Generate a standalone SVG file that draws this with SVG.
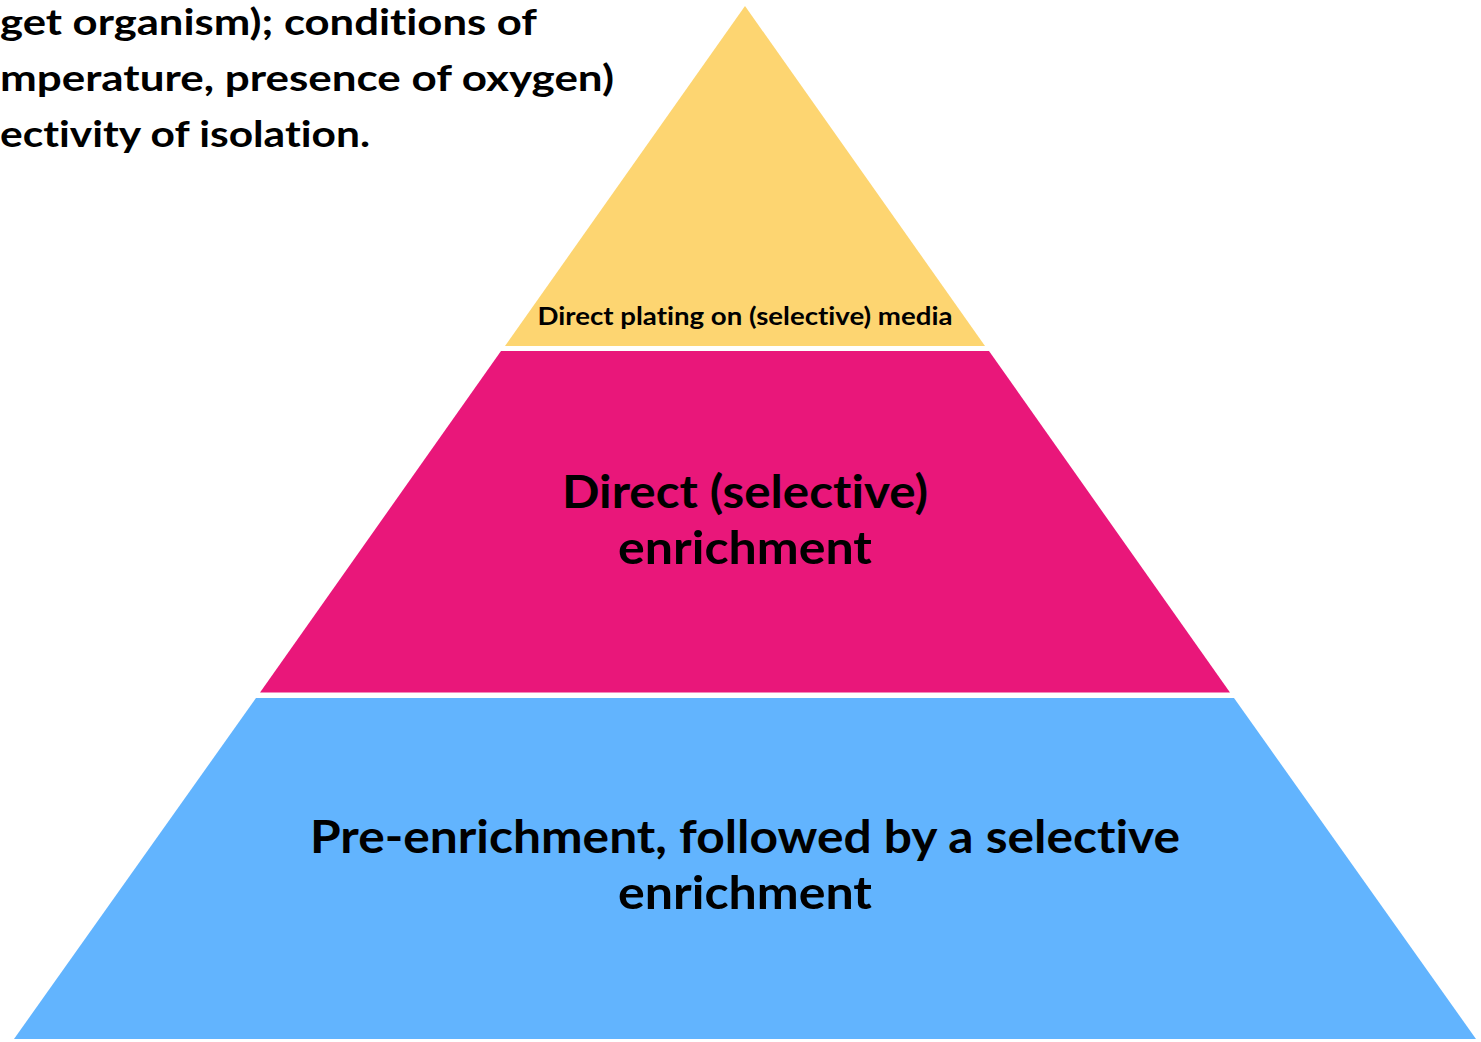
<svg xmlns="http://www.w3.org/2000/svg" width="1481" height="1042" viewBox="0 0 1481 1042">
<style>
.t{font-family:Lato,"Open Sans","Liberation Sans",sans-serif;font-weight:bold;fill:#000;font-variant-ligatures:none;font-feature-settings:"liga" 0}
.c{text-anchor:middle}
</style>
<rect width="1481" height="1042" fill="#ffffff"/>
<g id="note">
<text class="t" x="0" y="35" font-size="36" textLength="537" lengthAdjust="spacingAndGlyphs">get organism); conditions of</text>
<text class="t" x="0" y="91" font-size="36" textLength="614" lengthAdjust="spacingAndGlyphs">mperature, presence of oxygen)</text>
<text class="t" x="0" y="147" font-size="36" textLength="370" lengthAdjust="spacingAndGlyphs">ectivity of isolation.</text>
</g>
<g id="tier-top">
<polygon points="745,6 985,346 505,346" fill="#FDD571"/>
<text class="t c" x="745" y="325" font-size="25.5" textLength="415" lengthAdjust="spacingAndGlyphs">Direct plating on (selective) media</text>
</g>
<g id="tier-middle">
<polygon points="501,351 989,351 1230,692.5 260,692.5" fill="#E9177A"/>
<text class="t c" x="745" y="508" font-size="46" textLength="366" lengthAdjust="spacingAndGlyphs">Direct (selective)</text>
<text class="t c" x="745" y="564" font-size="46" textLength="254" lengthAdjust="spacingAndGlyphs">enrichment</text>
</g>
<g id="tier-bottom">
<polygon points="256,698 1234,698 1476,1039 14,1039" fill="#62B4FE"/>
<text class="t c" x="745" y="853" font-size="46" textLength="870" lengthAdjust="spacingAndGlyphs">Pre-enrichment, followed by a selective</text>
<text class="t c" x="745" y="909" font-size="46" textLength="254" lengthAdjust="spacingAndGlyphs">enrichment</text>
</g>
<g id="connectors"></g>
</svg>
